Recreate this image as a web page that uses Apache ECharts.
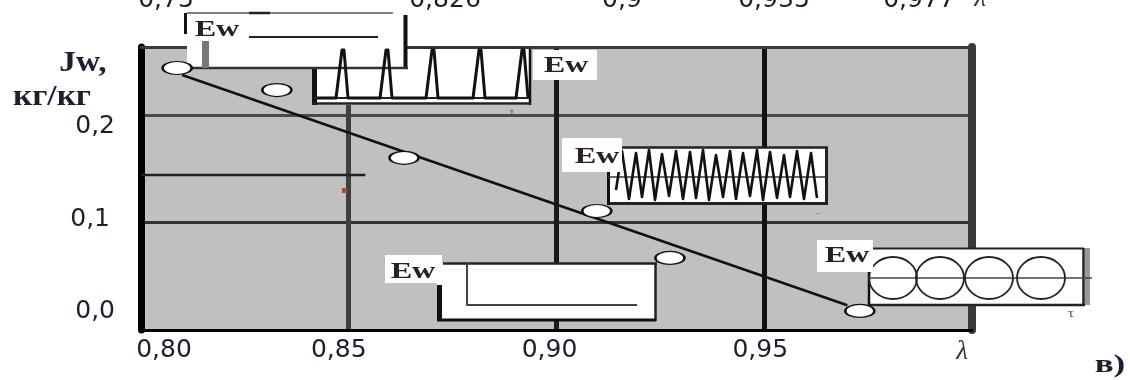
<!DOCTYPE html>
<html><head><meta charset="utf-8">
<script src="https://cdn.jsdelivr.net/npm/echarts@6/dist/echarts.min.js"></script>
<style>html,body{margin:0;padding:0;background:#fff}#c{width:1130px;height:380px}</style>
</head><body><div id="c"></div>
<script>
// ---- data ----
const xTickLabels = ['0,80', '0,85', '0,90', '0,95', 'λ'];
const yTickLabels = ['0,0', '0,1', '0,2'];
const topLabels = ['0,75', '0,826', '0,9', '0,935', '0,977'];
const pointX = [0.8087, 0.8327, 0.8633, 0.9097, 0.9273, 0.9730];
const pointY = [0.2435, 0.2230, 0.1600, 0.1106, 0.0670, 0.0177];
const fitX = [0.8099, 0.9700];
const fitY = [0.2370, 0.0230];
const strayX = [0.800, 0.854];
const strayY = [0.144, 0.144];

const TXT = '#1e1e30';
const SERIF = "'Liberation Serif','DejaVu Serif',serif";
const SANS = "'DejaVu Sans',sans-serif";

// ---- decorative insets (graphic) ----
const g = [];
function rect(x, y, w, h, fill, z) { g.push({type:'rect', silent:true, z:z||100, shape:{x:x, y:y, width:w, height:h}, style:{fill:fill}}); }
function seg(x1, y1, x2, y2, stroke, lw, z) { g.push({type:'line', silent:true, z:z||101, shape:{x1:x1, y1:y1, x2:x2, y2:y2}, style:{stroke:stroke, lineWidth:lw}}); }
function poly(pts, stroke, lw, z) { g.push({type:'polyline', silent:true, z:z||102, shape:{points:pts}, style:{stroke:stroke, lineWidth:lw, fill:null, lineJoin:'round'}}); }
function ell(cx, cy, rx, ry, stroke, lw, z) { g.push({type:'ellipse', silent:true, z:z||102, shape:{cx:cx, cy:cy, rx:rx, ry:ry}, style:{stroke:stroke, lineWidth:lw, fill:null}}); }
function txt(x, y, s, font, fill, sx, z, align) { g.push({type:'text', silent:true, z:z||103, x:x, y:y, scaleX:sx||1, style:{text:s, font:font, fill:fill, align:align||'center', verticalAlign:'middle'}}); }

const EWFONT = 'bold 23px ' + SERIF;

// inset 2 (spikes) - background first
rect(312, 48, 218, 57, '#fff', 100);
seg(314.5, 68, 314.5, 105, '#111', 5, 101);
seg(530, 48, 530, 105, '#111', 2.5, 101);
seg(312, 98, 530, 98, '#222', 2, 101);
seg(312, 103.5, 531, 103.5, '#222', 2.5, 101);
seg(405, 48, 531, 48, '#333', 2, 101);
// inset 1 (flat)
rect(187, 13, 219, 55, '#fff', 104);
seg(187, 13, 393, 13, '#555', 1.5, 105);
seg(249, 13, 270, 13, '#222', 2.5, 105);
seg(185.5, 13, 185.5, 34, '#111', 3, 105);
seg(405.5, 15, 405.5, 69, '#111', 4, 105);
seg(187, 68, 408, 68, '#333', 2.5, 105);
rect(202, 41, 7, 27, '#777', 105);
seg(249, 37, 378, 37, '#222', 2, 105);
txt(217, 30, 'Ew', EWFONT, '#2a2020', 1.4, 106);
// spikes drawn over both
(function(){
  const cs = [343, 387, 433, 480, 523];
  const pts = [[317, 98]];
  cs.forEach(c => { pts.push([c-7, 98], [c-1, 50], [c+1, 50], [c+5, 98]); });
  pts.push([528, 98]);
  poly(pts, '#111', 3, 110);
})();
rect(533, 50, 64, 30, '#fff', 106);
txt(566, 66, 'Ew', EWFONT, '#2a2020', 1.4, 107);

// inset 3 (zigzag)
rect(607, 147, 220, 57, '#fff', 100);
seg(622, 147.5, 828, 147.5, '#222', 2.5, 101);
seg(826.5, 147, 826.5, 205, '#222', 3, 101);
seg(607, 203.5, 828, 203.5, '#222', 3, 101);
seg(608.5, 165, 608.5, 205, '#111', 3, 101);
seg(608, 177, 826, 177, '#333', 1.5, 101);
(function(){
  const px = [622,636,649,662,676,690,703,716,730,743,757,770,784,797,811];
  const py = [151,153,150,154,151,152,150,155,151,153,150,152,155,151,153];
  const tx = [629,642,655,669,683,696,709,723,736,750,763,777,790,804,817];
  const ty = [199,197,200,196,199,198,200,197,199,196,200,198,197,199,198];
  const pts = [[616, 190]];
  for (let i = 0; i < px.length; i++) { pts.push([px[i], py[i]], [tx[i], ty[i]]); }
  poly(pts, '#111', 2.6, 102);
})();
rect(562, 138, 60, 34, '#fff', 103);
txt(597, 157, 'Ew', EWFONT, '#2a2020', 1.4, 104);

// inset 4 (step)
rect(437, 263, 218, 57, '#fff', 100);
seg(443, 263.5, 657, 263.5, '#222', 2.5, 101);
seg(655.5, 263, 655.5, 321, '#222', 2.5, 101);
seg(437, 320, 656, 320, '#111', 3, 101);
seg(439.5, 285, 439.5, 321, '#111', 5, 101);
poly([[467, 263], [467, 305], [637, 305]], '#444', 2, 102);
rect(385, 255, 57, 28, '#fff', 103);
txt(413, 272, 'Ew', EWFONT, '#2a2020', 1.4, 104);

// inset 5 (loops)
rect(868, 248, 217, 57, '#fff', 100);
seg(868, 248.5, 1084, 248.5, '#222', 2, 101);
seg(1083.5, 248, 1083.5, 306, '#222', 2.5, 101);
rect(1085, 248, 5, 57, '#999', 101);
seg(868, 305, 1085, 305, '#222', 2.5, 101);
seg(869, 270, 869, 306, '#111', 2.5, 101);
seg(868, 278, 1092, 278, '#444', 1.5, 101);
[893, 940, 989, 1041].forEach(cx => ell(cx, 278, 24, 21, '#222', 1.8, 102));
rect(817, 240, 56, 32, '#fff', 103);
txt(847, 256, 'Ew', EWFONT, '#2a2020', 1.4, 104);

// small marks
txt(512, 112, 'τ', '11px ' + SERIF, '#557', 1, 120);
txt(818, 213, '-', '11px ' + SERIF, '#4a8a9a', 1, 120);
txt(1071, 314, 'τ', '12px ' + SERIF, '#556', 1.3, 120);
rect(342, 188, 5, 5, '#a0503a', 50);

// side / top texts
txt(83, 64, 'Jw,', 'bold 29px ' + SERIF, TXT, 1.15, 120);
txt(52, 98, 'кг/кг', 'bold 29px ' + SERIF, TXT, 1.15, 120);
txt(1110, 366, 'в)', 'bold 25px ' + SERIF, TXT, 1.4, 120);
const topPos = [166, 445, 622, 774, 919];
topLabels.forEach((s, i) => txt(topPos[i], 0, s, '25px ' + SANS, TXT, 1, 120));
txt(980, -1, 'λ', 'italic 27px ' + SERIF, '#333', 1, 120);

// ---- chart ----
const chart = echarts.init(document.getElementById('c'), null, {renderer: 'canvas'});
const xRich = {
  a0: {padding: [0, 0, 0, 46]},
  a1: {padding: [0, 20, 0, 0]},
  a2: {padding: [0, 14, 0, 0]},
  a3: {padding: [0, 8, 0, 0]},
  a4: {padding: [0, 20, 0, 0], fontFamily: SERIF, fontStyle: 'italic', fontSize: 27, color: '#333'}
};
Object.keys(xRich).forEach(k => { if (!xRich[k].fontFamily) Object.assign(xRich[k], {fontFamily: SANS, fontSize: 25, color: TXT}); });
const yRich = {
  b0: {padding: [0, 0, 38, 0], fontFamily: SANS, fontSize: 25, color: TXT},
  b1: {padding: [0, 5, 6, 0], fontFamily: SANS, fontSize: 25, color: TXT},
  b2: {padding: [24, 0, 0, 0], fontFamily: SANS, fontSize: 25, color: TXT}
};
const X0 = 0.80, XI = 0.05;

chart.setOption({
  animation: false,
  backgroundColor: '#fff',
  grid: {left: 141, right: 158, top: 47, bottom: 50, show: true, backgroundColor: '#c0c0c0', borderWidth: 0},
  xAxis: [{
    type: 'value', min: 0.80, max: 1.00, interval: XI, position: 'bottom',
    axisLine: {show: true, onZero: false, lineStyle: {color: '#000', width: 3}},
    axisTick: {show: false},
    splitLine: {show: true, lineStyle: {width: 5, color: ['#000', '#404040', '#1a1a1a', '#111', '#333']}},
    axisLabel: {
      margin: 8, fontFamily: SANS, fontSize: 25, color: TXT, rich: xRich,
      formatter: v => { const i = Math.round((v - X0) / XI); return xTickLabels[i] !== undefined ? '{a' + i + '|' + xTickLabels[i] + '}' : ''; }
    }
  }, {
    type: 'value', min: 0.80, max: 1.00, interval: XI, position: 'top',
    axisLine: {show: true, onZero: false, lineStyle: {color: '#3a3a3a', width: 3}},
    axisTick: {show: false}, axisLabel: {show: false}, splitLine: {show: false}
  }],
  yAxis: [{
    type: 'value', min: 0, max: 0.263, interval: 0.1, position: 'left',
    axisLine: {show: true, onZero: false, lineStyle: {color: '#000', width: 7}},
    axisTick: {show: false},
    splitLine: {show: true, lineStyle: {width: 3, color: ['#000', '#333', '#4a4a4a', '#444']}},
    axisLabel: {
      margin: 26, fontFamily: SANS, fontSize: 25, color: TXT, rich: yRich,
      formatter: v => { const i = Math.round(v * 10); return (Math.abs(v - i / 10) < 1e-6 && yTickLabels[i] !== undefined) ? '{b' + i + '|' + yTickLabels[i] + '}' : ''; }
    }
  }, {
    type: 'value', min: 0, max: 0.263, interval: 0.1, position: 'right',
    axisLine: {show: true, onZero: false, lineStyle: {color: '#3a3a3a', width: 8}},
    axisTick: {show: false}, axisLabel: {show: false}, splitLine: {show: false}
  }],
  series: [{
    type: 'line', z: 3, symbol: 'none', silent: true,
    data: strayX.map((x, i) => [x, strayY[i]]),
    lineStyle: {color: '#222', width: 2.5}
  }, {
    type: 'line', z: 4, symbol: 'none', silent: true,
    data: fitX.map((x, i) => [x, fitY[i]]),
    lineStyle: {color: '#111', width: 2.5}
  }, {
    type: 'scatter', z: 200, silent: true,
    symbol: 'circle', symbolSize: [29, 13],
    data: pointX.map((x, i) => [x, pointY[i]]),
    itemStyle: {color: '#fff', borderColor: '#111', borderWidth: 1.8, opacity: 1}
  }],
  graphic: {elements: g}
});
</script>
</body></html>
